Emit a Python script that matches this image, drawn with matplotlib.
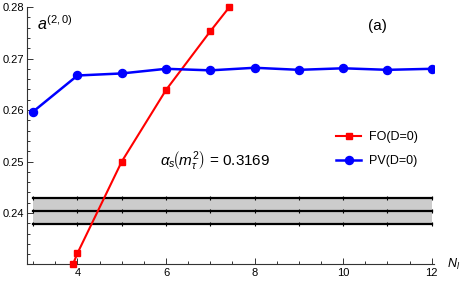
import numpy as np
import matplotlib
matplotlib.use("Agg")
import matplotlib.pyplot as plt
from matplotlib.ticker import MultipleLocator

plt.rcParams['font.family'] = ['Liberation Sans', 'DejaVu Sans']
plt.rcParams['mathtext.fontset'] = 'custom'
plt.rcParams['mathtext.rm'] = 'Liberation Sans'
plt.rcParams['mathtext.it'] = 'Liberation Sans:italic'

# Data
n_fo = [3, 4, 5, 6, 7, 8]
a_fo = [0.2112, 0.2322, 0.2500, 0.2639, 0.2753, 0.2862]
n_pv = [3, 4, 5, 6, 7, 8, 9, 10, 11, 12]
a_pv = [0.2597, 0.2667, 0.2671, 0.2680, 0.2677, 0.2682, 0.2678, 0.2681, 0.2678, 0.2680]
n_band = [3, 4, 5, 6, 7, 8, 9, 10, 11, 12]
band_hi = 0.2430
band_mid = 0.2404
band_lo = 0.2378

xlim = (2.86, 12.05)
ylim = (0.2301, 0.2800)

fig = plt.figure(figsize=(4.63, 2.82), dpi=100)
ax = fig.add_axes([27/463, 18/282, (434-27)/463, (264-7)/282])
ax.set_xlim(*xlim)
ax.set_ylim(*ylim)

nb = np.array(n_band)
ax.fill_between(nb, band_lo, band_hi, color='#cccccc', lw=0, zorder=1)
for v in (band_hi, band_mid, band_lo):
    ax.plot(nb, [v]*len(nb), color='black', lw=1.6, marker='|', ms=3, mew=0.8, zorder=2)

ax.plot(n_fo, a_fo, color='red', lw=1.5, marker='s', ms=4, zorder=3, label='FO(D=0)')
# markers where FO crosses the plot boundaries (derived from data)
xs_b = np.interp(ylim[0], a_fo, n_fo)
xs_t = np.interp(ylim[1], a_fo, n_fo)
ax.plot([xs_b, xs_t], [ylim[0], ylim[1]], ls='none', marker='s', ms=4, color='red', clip_on=False, zorder=3)

ax.plot(n_pv, a_pv, color='blue', lw=1.8, marker='o', ms=5.8, zorder=4, label='PV(D=0)')

for s in ('top', 'right'):
    ax.spines[s].set_visible(False)
for s in ('left', 'bottom'):
    ax.spines[s].set_color('#333333')
    ax.spines[s].set_linewidth(0.8)

ax.xaxis.set_major_locator(MultipleLocator(2))
ax.xaxis.set_minor_locator(MultipleLocator(0.5))
ax.yaxis.set_major_locator(MultipleLocator(0.01))
ax.yaxis.set_minor_locator(MultipleLocator(0.002))
ax.tick_params(which='both', direction='in', labelsize=8, color='#333333', width=0.7)
ax.tick_params(which='major', length=4)
ax.tick_params(which='minor', length=2)
ax.tick_params(axis='y', pad=2)
ax.tick_params(axis='x', pad=3)
ax.yaxis.set_major_formatter(matplotlib.ticker.FuncFormatter(lambda v, p: f"{v:.2f}"))
ax.xaxis.set_major_formatter(matplotlib.ticker.FuncFormatter(lambda v, p: f"{v:.0f}"))

ax.text(0.025, 0.97, r'$a^{(2,0)}$', transform=ax.transAxes, fontsize=11.5, va='top', ha='left')
ax.text(0.86, 0.955, '(a)', transform=ax.transAxes, fontsize=11, va='top', ha='center')
fig.text(160/463, 1 - 160/282, r'$\alpha_s\!\left(m_\tau^2\right)$ = 0.3169',
         fontsize=11, va='center', ha='left')
fig.text(447/463, 18/282, r'$N_l$', fontsize=9, va='center', ha='left')

leg = ax.legend(loc='upper left', bbox_to_anchor=(330/463, 1 - 125/282), bbox_transform=fig.transFigure,
                frameon=False, fontsize=9, handlelength=2.0, handletextpad=0.6, labelspacing=0.95,
                borderpad=0)

fig.savefig('out.png', dpi=100)
